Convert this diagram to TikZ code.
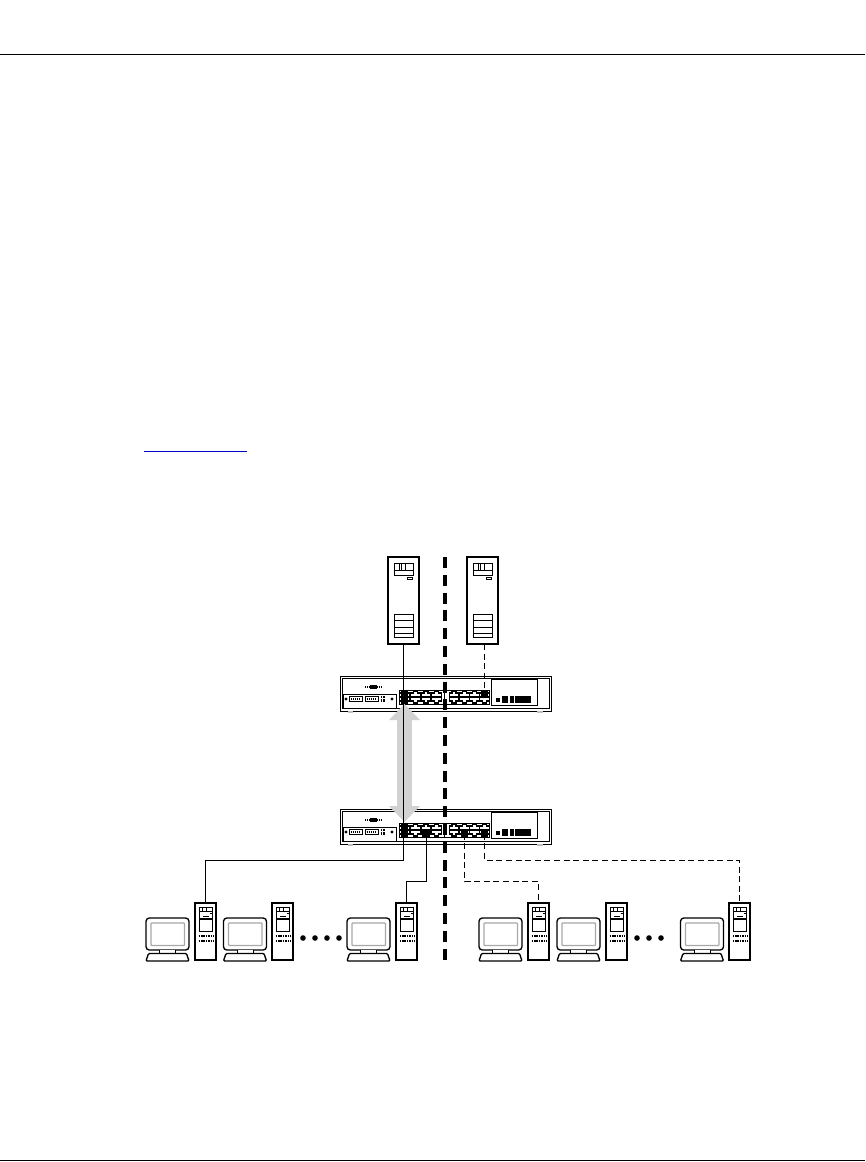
\documentclass[tikz,border=0pt]{standalone}
\usepackage{xcolor}
\definecolor{ruleBlue}{HTML}{0000C8}
\definecolor{arrowGrey}{HTML}{D2D2D2}
\definecolor{screenGrey}{HTML}{A8A8A8}
\usepackage{tikz}
\usetikzlibrary{arrows.meta, positioning}

\begin{document}
\begin{tikzpicture}[
		x=0.75pt, y=-0.75pt,
		casing/.style={draw, line width=1pt, fill=white, inner sep=0pt, outer sep=0pt},
		thin part/.style={draw, line width=0.55pt, fill=white},
		link/.style={line width=0.75pt},
		dashlink/.style={line width=0.75pt, dash pattern=on 4.5pt off 2.7pt},
		server/.pic={
			\node[casing, minimum width=23.25pt, minimum height=65.25pt] (-box) at (0,0) {};
			\draw[thin part] (-9.5,-37.5) rectangle (9.5,-25.5);
			\draw[thin part] (-9.5,-30.5) -- (9.5,-30.5);
			\draw[thin part] (-4.5,-37.5) rectangle (1.5,-30.5);
			\draw[thin part] (-1.8,-37.5) -- (-1.8,-30.5);
			\draw[thin part] (3.5,-23.5) rectangle (8.5,-21.5);
			\draw[thin part] (-9.5,13.5) rectangle (9.5,36.5);
			\foreach \y in {20,26.5,32.8} {
				\draw[thin part] (-9.5,\y) -- (9.5,\y);
			}
		},
		tower/.pic={
			\node[casing, minimum width=15.75pt, minimum height=42.75pt] (-box) at (0,0) {};
			\draw[thin part] (-6.5,-24.5) rectangle (6.5,-0.5);
			\draw[thin part] (-6.5,-20.5) -- (6.5,-20.5);
			\draw[thin part] (-3,-24.5) rectangle (1,-20.5);
			\draw[thin part] (4,-18.5) -- (6.5,-18.5);
			\fill (-3,-16) rectangle (3,-14.8);
			\draw[line width=0.8pt] (-6.5,-12.5) -- (6.5,-12.5);
			\foreach \y in {4.5,9.5} {
				\draw[line width=1.9pt, dash pattern=on 1.2pt off 0.6pt] (-7,\y) -- (7.5,\y);
			}
		},
		monitor/.pic={
			\node[casing, rounded corners=2.5pt, minimum width=32.25pt, minimum height=24pt] (-box) at (0,0) {};
			\draw[draw=screenGrey, line width=0.9pt, rounded corners=0.5pt] (-16.5,-11) rectangle (17,11.5);
			\draw[thin part] (-8,16) -- (-8,19) -- (8,19) -- (8,16);
			\draw[casing, rounded corners=0.8pt] (-19,19.5) -- (19,19.5) -- (21.5,27) -- (-21.5,27) -- cycle;
		},
		switch/.pic={
			\node[casing, line width=0.75pt, minimum width=158.25pt, minimum height=26.25pt] (-box) at (0,0) {};
			\fill[gray!50] (-97.5,17.5) rectangle (-92.5,19.3);
			\fill[gray!50] (91.5,17.5) rectangle (97.5,19.3);
			\draw[line width=0.6pt] (-103.5,-15.5) rectangle (103.5,14.5);
			\draw[thin part] (-102.5,0.5) rectangle (-49.5,14.5);
			\fill (-76,-8.5) rectangle (-69,-4.5);
			\draw[line width=1.2pt, dash pattern=on 0.8pt off 0.7pt] (-81,-6.5) -- (-64,-6.5);
			\fill (-99.5,5.5) circle (1.6);
			\fill (-53.5,5.5) circle (1.6);
			\foreach \x in {-96.5,-80.5} {
				\draw[line width=0.5pt] (\x,3) rectangle ++(13,5);
				\draw[line width=2pt, dash pattern=on 1pt off 0.6pt] (\x+1.5,5.5) -- ++(10,0);
			}
			\draw[line width=2pt, dash pattern=on 1.2pt off 0.9pt] (-65,3.6) -- (-60,3.6);
			\draw[line width=2pt, dash pattern=on 1.2pt off 0.9pt] (-65,7.2) -- (-60,7.2);
			\draw[line width=0.75pt, fill=white] (-46.5,-3.5) rectangle (43.5,10.5);
			\draw[line width=0.6pt] (-1.5,-3.5) -- (-1.5,10.5);
			\foreach \n/\x in {1/-41,2/-30,3/-19.5,4/-9,5/8.5,6/19,7/29,8/39} {
				\coordinate (-t\n) at (\x,0);
				\coordinate (-b\n) at (\x,7);
				\draw[line width=1pt] (\x-4.7,3) -- (\x-4.7,-0.5) -- (\x-2,-0.5) -- (\x-2,-2.5) -- (\x+2,-2.5) -- (\x+2,-0.5) -- (\x+4.7,-0.5) -- (\x+4.7,3) -- cycle;
				\draw[line width=1pt] (\x-4.7,3.6) -- (\x+4.7,3.6) -- (\x+4.7,7.5) -- (\x+2,7.5) -- (\x+2,9.5) -- (\x-2,9.5) -- (\x-2,7.5) -- (\x-4.7,7.5) -- cycle;
			}
			\draw[thin part] (45.5,-14.5) rectangle (91.5,11.5);
			\fill (50.5,4.5) rectangle (54.5,8.5);
			\fill (56.5,2.5) rectangle (62.5,9.5);
			\fill (64.5,2.5) rectangle (68.5,9.5);
			\fill (69.5,2.5) rectangle (85.5,9.5);
			\coordinate (-top) at (-41,-4.5);
			\coordinate (-bot) at (-41,10.5);
		},
		litport/.style={fill=black}
		]
		
		\useasboundingbox (0,0) rectangle (865,1162);
		\draw[line width=1pt] (0,54.5) -- (865,54.5);
		\draw[line width=1pt] (0,1160.5) -- (865,1160.5);
		\draw[ruleBlue, line width=0.9pt] (144,451.5) -- (247,451.5);
		
		\pic (srvA) at (403.5,600.5) {server};
		\pic (srvB) at (482.5,600.5) {server};
		\pic (swA) at (445.5,693.5) {switch};
		\pic (swB) at (445.5,826.5) {switch};
		
		\foreach \name/\x in {pcA/167.5,pcB/245,pcC/368.5,pcD/500.5,pcE/578.5,pcF/702} {
			\pic (\name) at (\x,934) {monitor};
		}
		\foreach \name/\x in {towA/205.5,towB/282.5,towC/406.5,towD/538.5,towE/616.5,towF/739.5} {
			\pic (\name) at (\x,931.5) {tower};
		}
		
		\foreach \p in {swA-t1,swA-b1,swA-t8,swB-t1,swB-b1,swB-b3,swB-b6,swB-b8} {
			\fill[litport] (\p) +(-3.6,-2.6) rectangle +(3.6,3.5);
		}
		
		\draw[arrowGrey, line width=11.25pt, {Triangle[length=12pt,width=22.5pt]}-{Triangle[length=12pt,width=22.5pt]}] (swA-bot) -- (swB-top);
		
		\coordinate (jogA) at (0,860);
		\coordinate (jogB) at (0,881.5);
		\draw[link] (srvA-box.south) -- (srvA-box.south |- jogA) -| (towA-box.north);
		\draw[link] (swB-b3) -- (swB-b3 |- jogB) -| (towC-box.north);
		\draw[dashlink] (srvB-box.south -| swA-t8) -- (swA-t8);
		\draw[dashlink] (swB-b6) -- (swB-b6 |- jogB) -| (towD-box.north);
		\draw[dashlink] (swB-b8) -- (swB-b8 |- jogA) -| (towF-box.north);
		
		\draw[line width=3.2pt, dash pattern=on 8.3pt off 5.05pt] (445,557) -- (445,963);
		
		\foreach \x in {303,315,327,339,637,649,661} {
			\fill (\x,938) circle (2.8);
		}
		
	\end{tikzpicture}
\end{document}
